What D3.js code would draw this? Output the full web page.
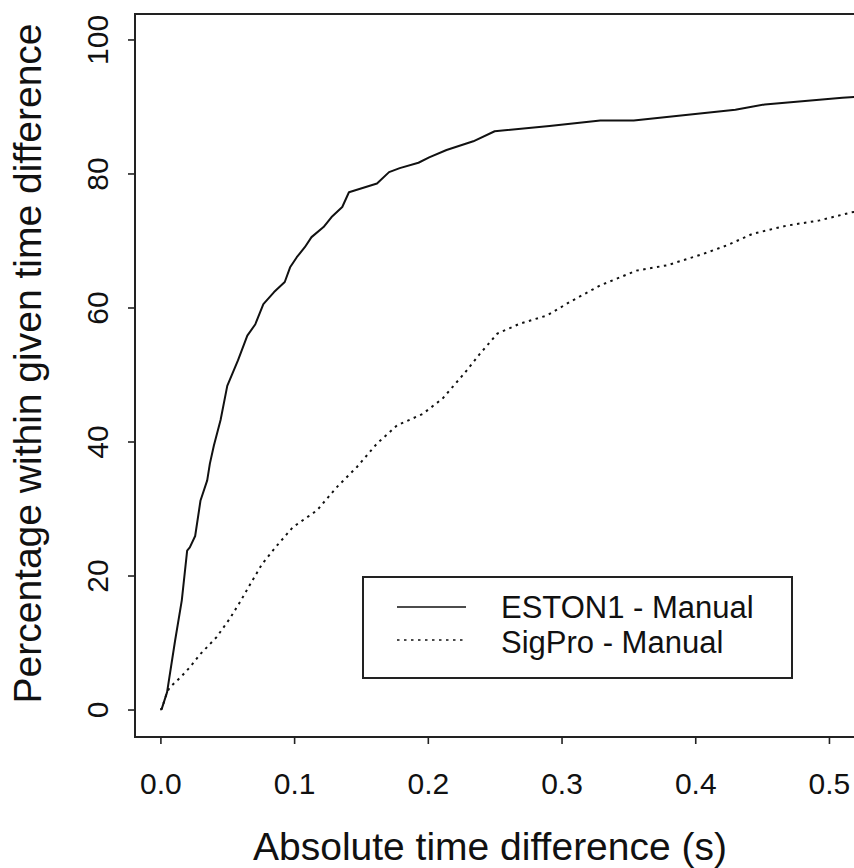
<!DOCTYPE html>
<html>
<head>
<meta charset="utf-8">
<script src="https://cdn.jsdelivr.net/npm/d3@7"></script>
<style>
  html, body { margin: 0; padding: 0; background: #fff; }
  svg { display: block; }
  text { font-family: "Liberation Sans", Arial, Helvetica, sans-serif; fill: #111; }
</style>
</head>
<body>
<svg id="chart" width="854" height="868"></svg>
<script>
// ---- Data ----
const estonT = [0.0, 0.001, 0.005, 0.011, 0.016, 0.020, 0.022, 0.026, 0.030, 0.035, 0.037, 0.040, 0.045, 0.050, 0.058, 0.065, 0.071, 0.077, 0.085, 0.093, 0.097, 0.102, 0.108, 0.113, 0.122, 0.128, 0.136, 0.141, 0.162, 0.171, 0.179, 0.193, 0.201, 0.214, 0.234, 0.250, 0.291, 0.329, 0.354, 0.430, 0.452, 0.510, 0.530];
const estonP = [0.0, 0.1, 2.6, 10.3, 16.3, 23.7, 24.2, 25.9, 31.2, 34.2, 36.7, 39.4, 43.2, 48.3, 52.1, 55.8, 57.5, 60.5, 62.3, 63.8, 66.0, 67.5, 69.0, 70.5, 72.0, 73.5, 75.0, 77.2, 78.5, 80.2, 80.8, 81.6, 82.4, 83.5, 84.8, 86.3, 87.1, 87.9, 87.9, 89.5, 90.3, 91.3, 91.6];

const sigproT = [0.0, 0.001, 0.005, 0.007, 0.015, 0.022, 0.030, 0.042, 0.052, 0.060, 0.066, 0.076, 0.086, 0.099, 0.117, 0.132, 0.147, 0.162, 0.177, 0.196, 0.211, 0.227, 0.239, 0.252, 0.269, 0.289, 0.306, 0.329, 0.356, 0.379, 0.406, 0.424, 0.443, 0.468, 0.493, 0.517, 0.530];
const sigproP = [0.0, 0.1, 2.6, 3.3, 4.8, 6.3, 8.3, 10.8, 13.6, 16.2, 18.3, 21.7, 24.2, 27.2, 29.7, 33.2, 36.2, 39.7, 42.4, 44.1, 46.4, 50.1, 53.1, 56.1, 57.6, 58.8, 60.8, 63.3, 65.5, 66.3, 68.0, 69.3, 71.0, 72.2, 73.0, 74.2, 74.6];

const xTicks = [0.0, 0.1, 0.2, 0.3, 0.4, 0.5];
const yTicks = [0, 20, 40, 60, 80, 100];
const seriesNames = ["ESTON1 - Manual", "SigPro - Manual"];
const xTitle = "Absolute time difference (s)";
const yTitle = "Percentage within given time difference";

// ---- Layout ----
const W = 854, H = 868;
const plot = { left: 135, right: 870, top: 14, bottom: 737 };

const svg = d3.select("#chart");

const x = d3.scaleLinear().domain([-0.019, 0.5307]).range([plot.left, plot.right]);
const y = d3.scaleLinear().domain([-4.1, 103.8]).range([plot.bottom, plot.top]);

svg.append("defs").append("clipPath").attr("id", "clip")
  .append("rect")
  .attr("x", plot.left).attr("y", plot.top)
  .attr("width", plot.right - plot.left).attr("height", plot.bottom - plot.top);

// Plot box
svg.append("rect")
  .attr("x", plot.left).attr("y", plot.top)
  .attr("width", plot.right - plot.left).attr("height", plot.bottom - plot.top)
  .attr("fill", "none").attr("stroke", "#222").attr("stroke-width", 2);

// X axis
const xAxis = d3.axisBottom(x).tickValues(xTicks).tickSize(7).tickPadding(29)
  .tickFormat(d3.format(".1f"));
const gx = svg.append("g").attr("transform", `translate(0,${plot.bottom})`).call(xAxis);
gx.select(".domain").remove();
gx.selectAll(".tick line").attr("stroke", "#222").attr("stroke-width", 1.6);
gx.selectAll(".tick text").attr("font-size", 30).attr("fill", "#111")
  .attr("dy", "0.71em").style("font-family", '"Liberation Sans", Arial, sans-serif');

// Y axis
const yAxis = d3.axisLeft(y).tickValues(yTicks).tickSize(7).tickFormat(d3.format("d"));
const gy = svg.append("g").attr("transform", `translate(${plot.left},0)`).call(yAxis);
gy.select(".domain").remove();
gy.selectAll(".tick line").attr("stroke", "#222").attr("stroke-width", 1.6);
gy.selectAll(".tick text").remove();
gy.selectAll(".tick").append("text")
  .attr("transform", "translate(-27,0) rotate(-90)")
  .attr("text-anchor", "middle")
  .attr("font-size", 30)
  .attr("fill", "#111")
  .style("font-family", '"Liberation Sans", Arial, sans-serif')
  .text(d => d3.format("d")(d));

// Titles
svg.append("text")
  .attr("x", 490).attr("y", 860)
  .attr("text-anchor", "middle").attr("font-size", 39)
  .text(xTitle);

svg.append("text")
  .attr("transform", `translate(41,${(plot.top + plot.bottom) / 2 - 12}) rotate(-90)`)
  .attr("text-anchor", "middle").attr("font-size", 39)
  .text(yTitle);

// Lines
const line = d3.line().x(d => x(d[0])).y(d => y(d[1])).curve(d3.curveLinear);
const estonData = estonT.map((t, i) => [t, estonP[i]]);
const sigproData = sigproT.map((t, i) => [t, sigproP[i]]);

const g = svg.append("g").attr("clip-path", "url(#clip)");
g.append("path").datum(estonData).attr("d", line)
  .attr("fill", "none").attr("stroke", "#111").attr("stroke-width", 2)
  .attr("stroke-linejoin", "round");
g.append("path").datum(sigproData).attr("d", line)
  .attr("fill", "none").attr("stroke", "#111").attr("stroke-width", 2)
  .attr("stroke-dasharray", "2.5,4.5");

// Legend
const lg = svg.append("g");
lg.append("rect").attr("x", 363).attr("y", 577).attr("width", 429).attr("height", 101)
  .attr("fill", "#fff").attr("stroke", "#222").attr("stroke-width", 2);
const rows = [
  { name: seriesNames[0], dash: null, ly: 607, ty: 618 },
  { name: seriesNames[1], dash: "2.5,4.5", ly: 640, ty: 653 }
];
rows.forEach(r => {
  const l = lg.append("line").attr("x1", 397).attr("x2", 466).attr("y1", r.ly).attr("y2", r.ly)
    .attr("stroke", "#111").attr("stroke-width", 1.6);
  if (r.dash) l.attr("stroke-dasharray", r.dash);
  lg.append("text").attr("x", 501).attr("y", r.ty).attr("font-size", 31).text(r.name);
});
</script>
</body>
</html>
